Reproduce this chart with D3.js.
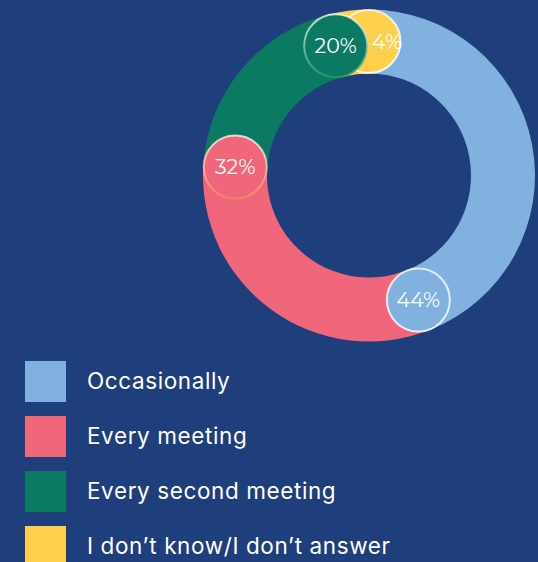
<!DOCTYPE html>
<html><head><meta charset="utf-8">
<script src="https://cdn.jsdelivr.net/npm/d3@7"></script>
<style>
html,body{margin:0;padding:0;background:#1f3e7c;}
svg{display:block;}
</style></head>
<body>
<script>
const categories = ["Occasionally", "Every meeting", "Every second meeting", "I don\u2019t know/I don\u2019t answer"];
const values = [44, 32, 20, 4];
const colors = ["#80b1df", "#f0677c", "#0c7a62", "#fed04b"];
const labelText = ["44%", "32%", "20%", "4%"];

const W = 538, H = 562;
const cx = 369, cy = 175.5, R = 166, r0 = 102;
const svg = d3.select("body").append("svg").attr("width", W).attr("height", H);
svg.append("rect").attr("width", W).attr("height", H).attr("fill", "#1f3e7c");

const pie = d3.pie().sort(null).value(d => d)(values);
const arc = d3.arc().innerRadius(r0).outerRadius(R);
const g = svg.append("g").attr("transform", `translate(${cx},${cy})`);
g.selectAll("path.slice").data(pie).join("path").attr("class","slice")
  .attr("d", arc).attr("fill", (d,i) => colors[i]);

// label bubbles at the end of each slice
const rm = (R + r0) / 2;
const bubbles = pie.map((d,i) => ({i, a: d.endAngle, x: rm*Math.sin(d.endAngle), y: -rm*Math.cos(d.endAngle)}));
const order = [3, 0, 1, 2];
const defs = svg.append("defs");
colors.forEach((c,i) => {
  const gr = defs.append("linearGradient").attr("id","st"+i).attr("x1",0).attr("y1",0).attr("x2",0).attr("y2",1);
  gr.append("stop").attr("offset","0%").attr("stop-color", "#ffffff").attr("stop-opacity",0.75);
  gr.append("stop").attr("offset","100%").attr("stop-color", i===1 ? "#f4845f" : (i===2 ? "#1f9a66" : "#ffffff")).attr("stop-opacity", 0.85);
});
const bg = g.selectAll("g.bubble").data(order.map(k => bubbles[k])).join("g").attr("class","bubble")
  .attr("transform", d => `translate(${d.x},${d.y})`);
bg.append("circle").attr("r", 31.5).attr("fill", d => colors[d.i])
  .attr("stroke", d => `url(#st${d.i})`).attr("stroke-width", 2);
bg.append("text")
  .attr("x", d => d.i === 3 ? 18 : 0)
  .attr("y", 0).attr("dy", "0.35em")
  .attr("text-anchor", "middle")
  .attr("fill", "#ffffff")
  .attr("font-family", "Montserrat, 'Open Sans', sans-serif")
  .attr("font-weight", 400)
  .attr("font-size", 20.5)
  .text(d => labelText[d.i]);

// legend
const leg = svg.append("g");
const ly = d3.scaleBand().domain(categories).range([361, 361 + 55*4]).paddingInner(0);
const items = leg.selectAll("g").data(categories).join("g")
  .attr("transform", d => `translate(25,${ly(d)})`);
items.append("rect").attr("width", 41).attr("height", 41).attr("fill", (d,i) => colors[i]);
items.append("text").attr("x", 62).attr("y", 20.5).attr("dy", "0.35em")
  .attr("fill", "#ffffff").attr("font-family", "Inter, 'Open Sans', sans-serif").attr("font-size", 22.5)
  .attr("letter-spacing", 0.6)
  .text(d => d);
</script>
</body></html>
